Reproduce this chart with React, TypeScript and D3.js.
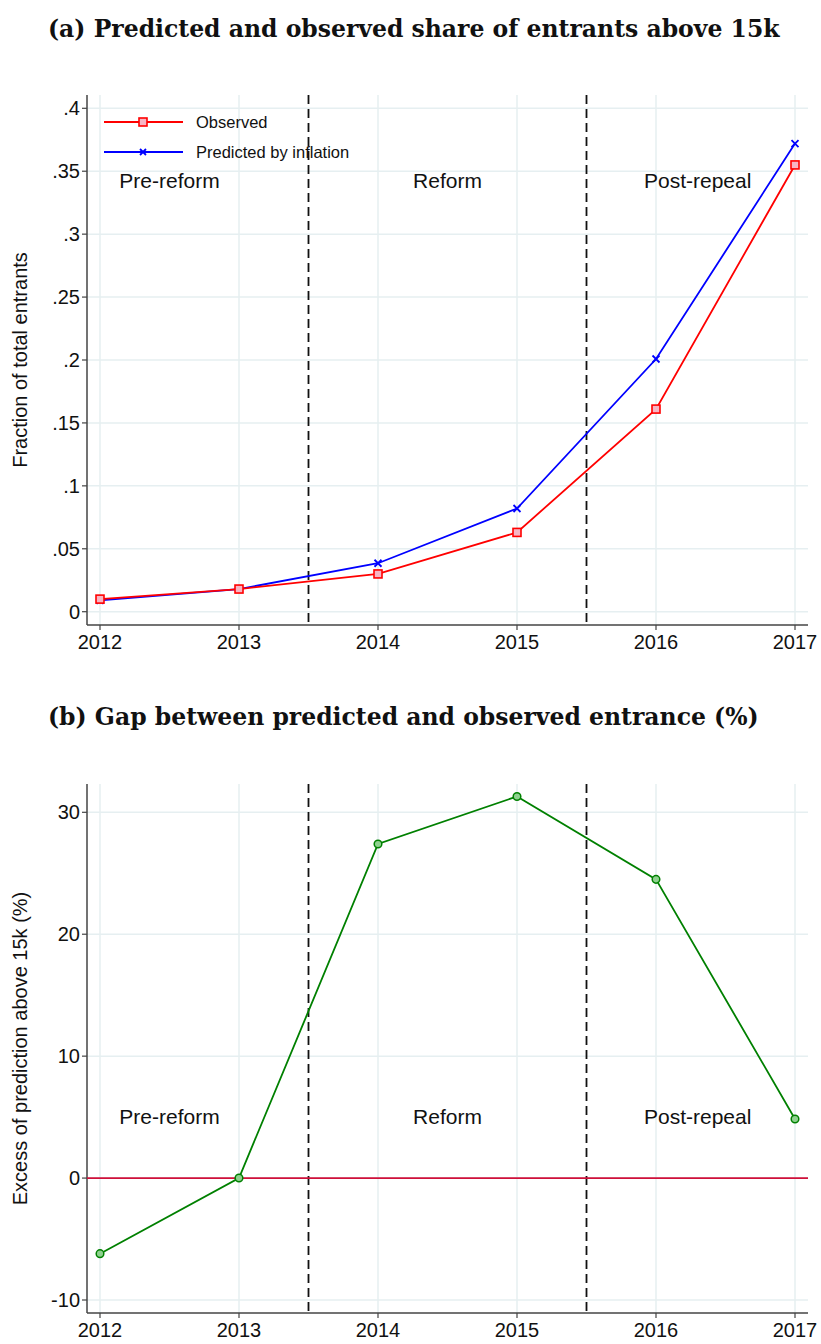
import React, { useEffect, useRef } from 'react';
import * as d3 from 'd3';

const years = [2012, 2013, 2014, 2015, 2016, 2017];
const observed = [0.01, 0.018, 0.03, 0.063, 0.161, 0.355];
const predicted = [0.009, 0.018, 0.0385, 0.082, 0.2008, 0.372];
const gap = [-6.2, 0, 27.4, 31.3, 24.5, 4.85];

const shareTicks = [0, 0.05, 0.1, 0.15, 0.2, 0.25, 0.3, 0.35, 0.4];
const shareTickLabels = ['0', '.05', '.1', '.15', '.2', '.25', '.3', '.35', '.4'];
const gapTicks = [-10, 0, 10, 20, 30];
const periodCuts = [2013.5, 2015.5];
const periodLabels = ['Pre-reform', 'Reform', 'Post-repeal'];
const periodLabelYears = [2012.5, 2014.5, 2016.3];

const W = 821;
const H = 1344;
const SANS = 'Liberation Sans, Arial, sans-serif';
const SERIF = 'DejaVu Serif, serif';
const GRID = '#e6eff1';
const AXIS = '#444';

export default function App() {
  const ref = useRef<SVGSVGElement>(null);

  useEffect(() => {
    if (!ref.current) return;
    const svg = d3.select(ref.current);
    svg.selectAll('*').remove();

    const x = d3.scaleLinear().domain([2012, 2017]).range([100, 795]);
    const left = 87;
    const right = 808;

    const drawPanel = (opts: {
      top: number; bottom: number; y: d3.ScaleLinear<number, number>;
      ticks: number[]; tickLabels: string[]; title: string; titleY: number;
      ylabel: string; annotY: number;
    }) => {
      const g = svg.append('g');
      const { top, bottom, y } = opts;

      g.append('text')
        .attr('x', 48).attr('y', opts.titleY)
        .attr('font-family', SERIF).attr('font-weight', 'bold')
        .attr('font-size', 23.5).attr('fill', '#111')
        .text(opts.title);

      // grid
      g.selectAll('.hg').data(opts.ticks).join('line')
        .attr('x1', left).attr('x2', right)
        .attr('y1', d => y(d)).attr('y2', d => y(d))
        .attr('stroke', GRID).attr('stroke-width', 1.5);
      g.selectAll('.vg').data(years).join('line')
        .attr('x1', d => x(d)).attr('x2', d => x(d))
        .attr('y1', top).attr('y2', bottom)
        .attr('stroke', GRID).attr('stroke-width', 1.5);

      // axes
      g.append('line').attr('x1', left).attr('x2', left).attr('y1', top).attr('y2', bottom)
        .attr('stroke', AXIS).attr('stroke-width', 1.5);
      g.append('line').attr('x1', left).attr('x2', right).attr('y1', bottom).attr('y2', bottom)
        .attr('stroke', AXIS).attr('stroke-width', 1.5);

      g.selectAll('.yt').data(opts.ticks).join('line')
        .attr('x1', left - 5).attr('x2', left)
        .attr('y1', d => y(d)).attr('y2', d => y(d))
        .attr('stroke', AXIS).attr('stroke-width', 1.2);
      g.selectAll('.ytl').data(opts.ticks).join('text')
        .attr('x', left - 7).attr('y', d => y(d))
        .attr('dy', '0.35em').attr('text-anchor', 'end')
        .attr('font-family', SANS).attr('font-size', 20).attr('fill', '#111')
        .text((d, i) => opts.tickLabels[i]);

      g.selectAll('.xt').data(years).join('line')
        .attr('x1', d => x(d)).attr('x2', d => x(d))
        .attr('y1', bottom).attr('y2', bottom + 5)
        .attr('stroke', AXIS).attr('stroke-width', 1.2);
      g.selectAll('.xtl').data(years).join('text')
        .attr('x', d => x(d)).attr('y', bottom + 24)
        .attr('text-anchor', 'middle')
        .attr('font-family', SANS).attr('font-size', 20).attr('fill', '#111')
        .text(d => d);

      g.append('text')
        .attr('transform', `translate(27,${(top + bottom) / 2}) rotate(-90)`)
        .attr('text-anchor', 'middle')
        .attr('font-family', SANS).attr('font-size', 20).attr('fill', '#111')
        .text(opts.ylabel);

      // period separators
      g.selectAll('.cut').data(periodCuts).join('line')
        .attr('x1', d => x(d)).attr('x2', d => x(d))
        .attr('y1', top).attr('y2', bottom)
        .attr('stroke', '#111').attr('stroke-width', 1.8)
        .attr('stroke-dasharray', '9,5');

      g.selectAll('.per').data(periodLabels).join('text')
        .attr('x', (d, i) => x(periodLabelYears[i]))
        .attr('y', opts.annotY)
        .attr('text-anchor', 'middle')
        .attr('font-family', SANS).attr('font-size', 21).attr('fill', '#111')
        .text(d => d);

      return g;
    };

    // Panel (a)
    const yA = d3.scaleLinear().domain([0, 0.4]).range([611.7, 108.3]);
    const gA = drawPanel({
      top: 95, bottom: 625, y: yA, ticks: shareTicks, tickLabels: shareTickLabels,
      title: '(a) Predicted and observed share of entrants above 15k', titleY: 37,
      ylabel: 'Fraction of total entrants', annotY: 188,
    });

    const lineA = (vals: number[]) =>
      d3.line<number>().x((d, i) => x(years[i])).y(d => yA(d))(vals);

    gA.append('path').attr('d', lineA(predicted)).attr('fill', 'none')
      .attr('stroke', '#0000ff').attr('stroke-width', 1.8);
    gA.append('path').attr('d', lineA(observed)).attr('fill', 'none')
      .attr('stroke', '#ff0000').attr('stroke-width', 1.8);

    const crossPath = (a: number, b: number, s = 3.5) =>
      `M${a - s},${b - s}L${a + s},${b + s}M${a - s},${b + s}L${a + s},${b - s}`;

    gA.selectAll('.pred').data(predicted).join('path')
      .attr('d', (d, i) => crossPath(x(years[i]), yA(d)))
      .attr('stroke', '#0000ff').attr('stroke-width', 1.8);

    gA.selectAll('.obs').data(observed).join('rect')
      .attr('x', (d, i) => x(years[i]) - 4).attr('y', d => yA(d) - 4)
      .attr('width', 8).attr('height', 8)
      .attr('fill', '#f7b5c4').attr('stroke', '#ff0000').attr('stroke-width', 1.6);

    // legend
    const leg = gA.append('g');
    leg.append('line').attr('x1', 104).attr('x2', 183).attr('y1', 122).attr('y2', 122)
      .attr('stroke', '#ff0000').attr('stroke-width', 1.8);
    leg.append('rect').attr('x', 139).attr('y', 118).attr('width', 8).attr('height', 8)
      .attr('fill', '#f7b5c4').attr('stroke', '#ff0000').attr('stroke-width', 1.6);
    leg.append('text').attr('x', 196).attr('y', 122).attr('dy', '0.35em')
      .attr('font-family', SANS).attr('font-size', 16.5).attr('fill', '#111').text('Observed');
    leg.append('line').attr('x1', 104).attr('x2', 183).attr('y1', 152).attr('y2', 152)
      .attr('stroke', '#0000ff').attr('stroke-width', 1.8);
    leg.append('path').attr('d', crossPath(143, 152, 3))
      .attr('stroke', '#0000ff').attr('stroke-width', 1.8);
    leg.append('text').attr('x', 196).attr('y', 152).attr('dy', '0.35em')
      .attr('font-family', SANS).attr('font-size', 16.5).attr('fill', '#111').text('Predicted by inflation');

    // Panel (b)
    const yB = d3.scaleLinear().domain([-10, 30]).range([1300, 812.3]);
    const gB = drawPanel({
      top: 784, bottom: 1313, y: yB, ticks: gapTicks, tickLabels: gapTicks.map(String),
      title: '(b) Gap between predicted and observed entrance (%)', titleY: 725,
      ylabel: 'Excess of prediction above 15k (%)', annotY: 1124,
    });

    gB.append('line').attr('x1', left).attr('x2', right)
      .attr('y1', yB(0)).attr('y2', yB(0))
      .attr('stroke', '#d0103a').attr('stroke-width', 1.6);

    gB.append('path')
      .attr('d', d3.line<number>().x((d, i) => x(years[i])).y(d => yB(d))(gap))
      .attr('fill', 'none').attr('stroke', '#008000').attr('stroke-width', 1.8);
    gB.selectAll('.gp').data(gap).join('circle')
      .attr('cx', (d, i) => x(years[i])).attr('cy', d => yB(d)).attr('r', 3.8)
      .attr('fill', '#8fd18f').attr('stroke', '#008000').attr('stroke-width', 1.5);
  }, []);

  return (
    <svg ref={ref} width={W} height={H} viewBox={`0 0 ${W} ${H}`}
      style={{ position: 'absolute', top: 0, left: 0, background: '#fff' }} />
  );
}
